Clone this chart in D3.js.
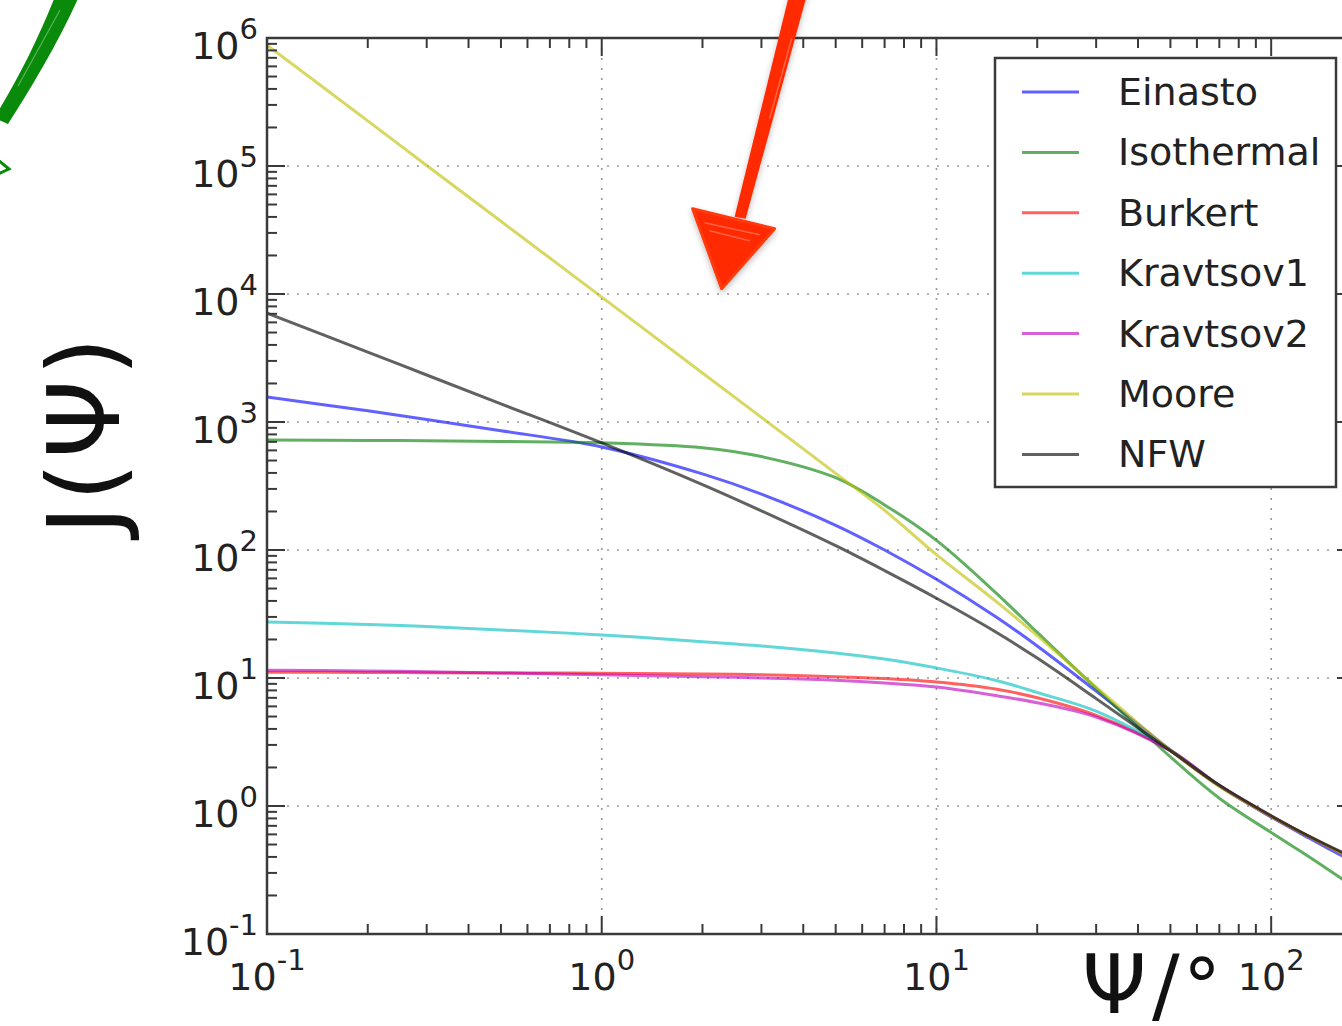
<!DOCTYPE html>
<meta charset="utf-8">
<style>
body { margin: 0; background: #fff; overflow: hidden; }
svg { display: block; font-family: "DejaVu Sans", sans-serif; }
</style>
<svg width="1342" height="1026"></svg>
<script src="https://d3js.org/d3.v7.min.js"></script>
<script>

// opening angle psi in degrees
var psi = [0.1, 0.2, 0.3, 0.5, 1, 2, 3, 5, 7, 10, 15, 20, 30, 50, 70, 100, 130, 178];

var einasto    = [1570, 1222, 1047, 855, 638, 393, 273, 156, 100, 59, 30.2, 17.8, 7.9, 2.74, 1.43, 0.82, 0.56, 0.36];
var isothermal = [723, 718, 713, 705, 689, 630, 537, 367, 225, 119, 46.7, 22.7, 8.3, 2.42, 1.15, 0.62, 0.40, 0.23];
var burkert    = [11.1, 11.05, 11.0, 10.95, 10.9, 10.75, 10.6, 10.25, 9.9, 9.3, 8.2, 7.0, 5.1, 2.72, 1.45, 0.83, 0.575, 0.38];
var kravtsov1  = [27.4, 26.2, 25.2, 23.7, 21.7, 19.2, 17.8, 15.7, 14.1, 12.0, 9.6, 7.7, 5.5, 2.72, 1.45, 0.83, 0.575, 0.38];
var kravtsov2  = [11.5, 11.35, 11.2, 10.95, 10.6, 10.25, 10.0, 9.6, 9.15, 8.5, 7.3, 6.4, 4.95, 2.7, 1.44, 0.83, 0.575, 0.38];
var moore      = [8.8e5, 2.25e5, 1.01e5, 3.7e4, 9.46e3, 2415, 1087, 397, 204, 92, 40, 21.4, 8.5, 2.72, 1.42, 0.83, 0.575, 0.38];
var nfw        = [7100, 3515, 2330, 1387, 686, 324, 202, 108, 69, 42, 23, 14.3, 6.9, 2.7, 1.45, 0.84, 0.58, 0.39];

var names  = ["Einasto", "Isothermal", "Burkert", "Kravtsov1", "Kravtsov2", "Moore", "NFW"];
var series = [einasto, isothermal, burkert, kravtsov1, kravtsov2, moore, nfw];
var colors = ["#0000ff", "#008000", "#ff0000", "#00bfbf", "#bf00bf", "#bfbf00", "#000000"];

var xMajor = [0.1, 1, 10, 100];
var yMajor = [0.1, 1, 10, 100, 1e3, 1e4, 1e5, 1e6];

var svg = d3.select("svg");

var x = d3.scaleLog().domain([0.1, 178]).range([267, 1355]),
    y = d3.scaleLog().domain([0.1, 1e6]).range([934, 38]);

var x0 = x.range()[0], x1 = x.range()[1],
    y0 = y.range()[0], y1 = y.range()[1];

function exp(v) { return Math.round(Math.log10(v)); }

function minors(majors, max) {
  var out = [];
  majors.forEach(function(d) {
    for (var k = 2; k < 10; k++) if (d * k <= max) out.push(d * k);
  });
  return out;
}

svg.append("defs").append("clipPath").attr("id", "plot")
  .append("rect").attr("x", x0).attr("y", y1).attr("width", x1 - x0).attr("height", y0 - y1);

// dotted grid
var grid = svg.append("g").attr("stroke", "#999").attr("stroke-width", 1.6)
    .attr("stroke-dasharray", "2,8");
grid.selectAll(".gx").data(xMajor.slice(1)).enter().append("line")
    .attr("x1", x).attr("x2", x).attr("y1", y1).attr("y2", y0);
grid.selectAll(".gy").data(yMajor.slice(1, -1)).enter().append("line")
    .attr("y1", y).attr("y2", y).attr("x1", x0).attr("x2", x1);

// curves
var line = d3.line()
    .x(function(d) { return x(d[0]); })
    .y(function(d) { return y(d[1]); })
    .curve(d3.curveCatmullRom.alpha(0.5));

svg.append("g").attr("clip-path", "url(#plot)")
  .selectAll("path").data(series).enter().append("path")
    .attr("d", function(s) { return line(s.map(function(v, i) { return [psi[i], v]; })); })
    .attr("fill", "none")
    .attr("stroke", function(s, i) { return colors[i]; })
    .attr("stroke-opacity", 0.62)
    .attr("stroke-width", 3);

// frame and inward ticks
var frame = svg.append("g").attr("stroke", "#3a3a3a");
frame.append("rect").attr("x", x0).attr("y", y1).attr("width", x1 - x0).attr("height", y0 - y1)
    .attr("fill", "none").attr("stroke-width", 2.5);

function xTicks(data, len) {
  [y0, y1].forEach(function(base) {
    var dir = base === y0 ? -1 : 1;
    frame.selectAll(null).data(data).enter().append("line")
      .attr("x1", x).attr("x2", x).attr("y1", base).attr("y2", base + dir * len)
      .attr("stroke-width", 2);
  });
}
function yTicks(data, len) {
  [x0, x1].forEach(function(base) {
    var dir = base === x0 ? 1 : -1;
    frame.selectAll(null).data(data).enter().append("line")
      .attr("y1", y).attr("y2", y).attr("x1", base).attr("x2", base + dir * len)
      .attr("stroke-width", 2);
  });
}
xTicks(xMajor, 18);
xTicks(minors(xMajor, 178), 10);
yTicks(yMajor, 18);
yTicks(minors(yMajor.slice(0, -1), 1e6), 10);

// tick labels 10^n
var labels = svg.append("g").attr("fill", "#222");
labels.selectAll(".xl").data(xMajor).enter().append("text")
    .attr("x", x).attr("y", y0 + 56)
    .attr("text-anchor", "middle")
    .style("font-size", "38px")
    .each(function(d) {
      var t = d3.select(this);
      t.append("tspan").text("10");
      t.append("tspan").attr("dy", -20).style("font-size", "29px").text(exp(d));
    });
labels.selectAll(".yl").data(yMajor).enter().append("text")
    .attr("x", x0 - 9).attr("y", function(d) { return y(d) + 21; })
    .attr("text-anchor", "end")
    .style("font-size", "38px")
    .each(function(d) {
      var t = d3.select(this);
      t.append("tspan").text("10");
      t.append("tspan").attr("dy", -20).style("font-size", "29px").text(exp(d));
    });

// axis titles
svg.append("text")
    .attr("transform", "translate(119," + (y(1e3) + 12) + ") rotate(-90)")
    .attr("text-anchor", "middle")
    .style("font-size", "100px")
    .style("letter-spacing", "4px")
    .attr("fill", "#111")
    .text("J(Ψ)");
var xt = svg.append("text")
    .attr("y", 1013)
    .style("font-size", "82px")
    .attr("fill", "#111");
xt.append("tspan").attr("x", 1082).text("Ψ");
xt.append("tspan").attr("x", 1152).text("/");
xt.append("tspan").attr("x", 1183).style("font-size", "76px").text("°");

// legend
var legend = svg.append("g").attr("transform", "translate(995,58)");
legend.append("rect").attr("width", 341).attr("height", 429)
    .attr("fill", "#fff").attr("stroke", "#3a3a3a").attr("stroke-width", 2.5);
var item = legend.selectAll(".item").data(names).enter().append("g")
    .attr("transform", function(d, i) { return "translate(0," + (34 + i * 60.4) + ")"; });
item.append("line").attr("x1", 27).attr("x2", 84)
    .attr("stroke", function(d, i) { return colors[i]; })
    .attr("stroke-opacity", 0.62).attr("stroke-width", 3);
item.append("text").attr("x", 123).attr("y", 13)
    .style("font-size", "38px").attr("fill", "#222")
    .text(function(d) { return d; });

// hand drawn arrows on top of the figure
var shadow = svg.select("defs").append("filter").attr("id", "shadow")
    .attr("x", "-30%").attr("y", "-30%").attr("width", "160%").attr("height", "160%");
shadow.append("feDropShadow").attr("dx", 0).attr("dy", 3).attr("stdDeviation", 3)
    .attr("flood-color", "#000").attr("flood-opacity", 0.25);

var red = svg.append("g")
    .attr("transform", "translate(" + x(2.25) + "," + y(1.1e4) + ")")
    .attr("filter", "url(#shadow)");
red.append("path")
    .attr("d", "M71,-300 L89,-300 L26,-70 L15,-72 Z")
    .attr("fill", "#ff2a00");
red.append("path")
    .attr("d", "M-27,-80 L55,-60 L2,0 Z")
    .attr("fill", "#ff2a00").attr("stroke", "#ff3a10").attr("stroke-width", 3)
    .attr("stroke-linejoin", "round");
red.append("path")
    .attr("d", "M-15,-66 L40,-54 M-10,-58 L30,-48 M72,-250 L50,-170")
    .attr("stroke", "#ff8a70").attr("stroke-width", 1.5).attr("stroke-opacity", 0.6);

var green = svg.append("g");
green.append("path")
    .attr("d", "M56,-6 L80,-6 C60,40 30,90 8,124 L-6,118 C18,80 40,35 56,-6 Z")
    .attr("fill", "#0a8a0a");
green.append("path")
    .attr("d", "M60,10 L18,86")
    .attr("stroke", "#7fc47f").attr("stroke-width", 1.2).attr("stroke-opacity", 0.7);
green.append("path")
    .attr("d", "M-2,160 L9,169 L-2,174")
    .attr("fill", "none").attr("stroke", "#0a8a0a").attr("stroke-width", 3);

</script>
